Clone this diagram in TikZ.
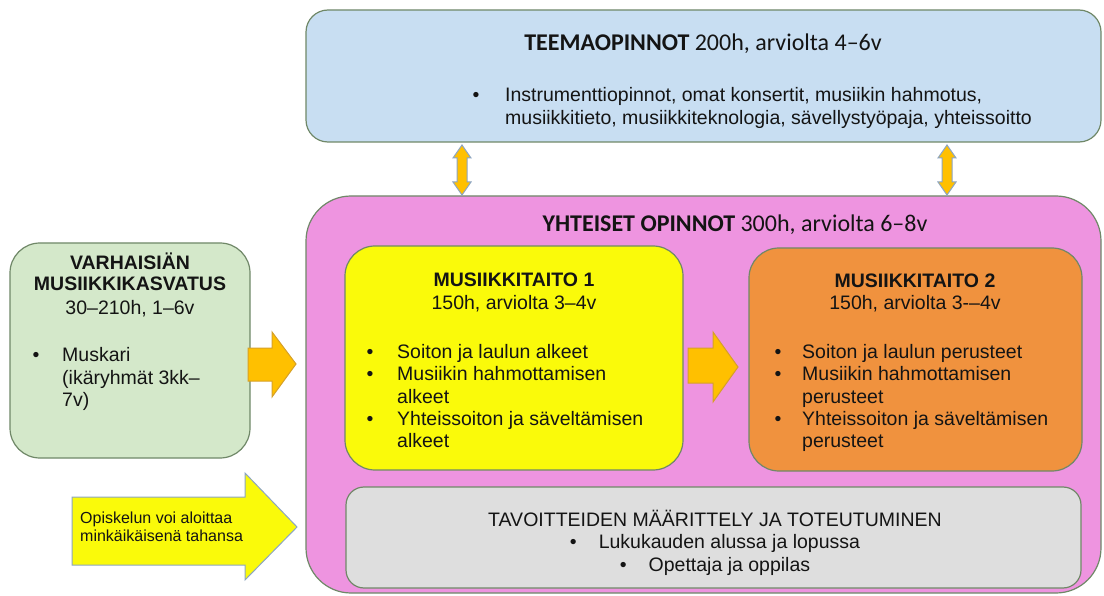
\documentclass[tikz,border=0pt]{standalone}
\usepackage{fontspec}
\setmainfont{Liberation Sans}
\newfontfamily\calib{Carlito}
\definecolor{topblue}{RGB}{200,222,242}
\definecolor{boxline}{RGB}{112,136,104}
\definecolor{pinkfill}{RGB}{238,148,224}
\definecolor{yelfill}{RGB}{250,250,10}
\definecolor{orfill}{RGB}{240,146,62}
\definecolor{greyfill}{RGB}{222,222,222}
\definecolor{greenfill}{RGB}{212,232,202}
\definecolor{gold}{RGB}{255,192,0}
\definecolor{goldline}{RGB}{214,160,40}
\definecolor{blueline}{RGB}{140,165,195}
\definecolor{txt}{RGB}{20,20,20}
\tikzset{
  boxstyle/.style={draw=boxline, line width=1.2pt},
  body/.style={inner sep=0pt, text=txt, font=\fontsize{19.5}{23}\selectfont},
  bodyb/.style={body, font=\fontsize{19.5}{23}\selectfont\bfseries},
  ttl/.style={inner sep=0pt, text=txt, font=\fontsize{24}{28}\selectfont\calib},
  small/.style={inner sep=0pt, text=txt, font=\fontsize{16}{18}\selectfont},
  goldarrow/.style={fill=gold, draw=goldline, line width=1pt, line join=miter},
  dblarrow/.style={fill=gold, draw=blueline, line width=1pt},
}
\begin{document}
\begin{tikzpicture}[x=1pt,y=-1pt]
\useasboundingbox (0,0) rectangle (1104,596);
\fill[white] (0,0) rectangle (1104,596);
% boxes
\draw[boxstyle, fill=topblue, rounded corners=22pt] (306,10) rectangle (1101,142);
\draw[boxstyle, fill=pinkfill, rounded corners=45pt] (306,196) rectangle (1101,593);
\draw[boxstyle, fill=yelfill, rounded corners=30pt] (345,246) rectangle (683,470);
\draw[boxstyle, fill=orfill, rounded corners=30pt] (749,248) rectangle (1082,471);
\draw[boxstyle, fill=greyfill, rounded corners=18pt] (346,487) rectangle (1081,588);
\draw[boxstyle, fill=greenfill, rounded corners=30pt] (10,243) rectangle (250,458);
% arrows
\draw[goldarrow] (248,348) -- (272,348) -- (272,332) -- (296,364) -- (272,397) -- (272,381) -- (248,381) -- cycle;
\draw[goldarrow] (688,348) -- (713,348) -- (713,332) -- (738,367) -- (713,402) -- (713,383) -- (688,383) -- cycle;
\draw[fill=yelfill, draw=blueline, line width=1pt] (72,497) -- (245,497) -- (245,473) -- (297,527) -- (245,580) -- (245,565) -- (72,565) -- cycle;
\foreach \cx in {462,947}{
  \draw[dblarrow] (\cx,145) -- (\cx+9,158) -- (\cx+5,158) -- (\cx+5,182) -- (\cx+9,182) -- (\cx,195) -- (\cx-9,182) -- (\cx-5,182) -- (\cx-5,158) -- (\cx-9,158) -- cycle;
}
% top box text
\node[ttl, anchor=base] (toptitle) at (703,51) {\textbf{TEEMAOPINNOT} 200h, arviolta 4–6v};
\node[body, anchor=base] (topb) at (476,102) {•};
\node[body, anchor=base west] (topl1) at (505,102) {Instrumenttiopinnot, omat konsertit, musiikin hahmotus,};
\node[body, anchor=base west] (topl2) at (505,125) {musiikkitieto, musiikkiteknologia, sävellystyöpaja, yhteissoitto};
% pink title
\node[ttl, anchor=base] (pinktitle) at (735,232) {\textbf{YHTEISET OPINNOT} 300h, arviolta 6–8v};
% yellow box
\node[bodyb, anchor=base] (y1) at (514,287) {MUSIIKKITAITO 1};
\node[body, anchor=base] (y2) at (514,309) {150h, arviolta 3–4v};
\node[body, anchor=base] (yb1) at (370,358) {•};
\node[body, anchor=base west] (yt1) at (397,358) {Soiton ja laulun alkeet};
\node[body, anchor=base] (yb2) at (370,381) {•};
\node[body, anchor=base west] (yt2) at (397,381) {Musiikin hahmottamisen};
\node[body, anchor=base west] (yt3) at (397,403) {alkeet};
\node[body, anchor=base] (yb3) at (370,425) {•};
\node[body, anchor=base west] (yt4) at (397,425) {Yhteissoiton ja säveltämisen};
\node[body, anchor=base west] (yt5) at (397,447) {alkeet};
% orange box
\node[bodyb, anchor=base] (o1) at (915,288) {MUSIIKKITAITO 2};
\node[body, anchor=base] (o2) at (915,310) {150h, arviolta 3-–4v};
\node[body, anchor=base] (ob1) at (778,358) {•};
\node[body, anchor=base west] (ot1) at (802,358) {Soiton ja laulun perusteet};
\node[body, anchor=base] (ob2) at (778,381) {•};
\node[body, anchor=base west] (ot2) at (802,381) {Musiikin hahmottamisen};
\node[body, anchor=base west] (ot3) at (802,403) {perusteet};
\node[body, anchor=base] (ob3) at (778,425) {•};
\node[body, anchor=base west] (ot4) at (802,425) {Yhteissoiton ja säveltämisen};
\node[body, anchor=base west] (ot5) at (802,447) {perusteet};
% grey box
\node[body, anchor=base] (g1) at (715,526) {TAVOITTEIDEN MÄÄRITTELY JA TOTEUTUMINEN};
\node[body, anchor=base] (g2) at (715,548) {•\hspace{22pt}Lukukauden alussa ja lopussa};
\node[body, anchor=base] (g3) at (715,571) {•\hspace{22pt}Opettaja ja oppilas};
% green box
\node[bodyb, anchor=base] (v1) at (130,270) {VARHAISIÄN};
\node[bodyb, anchor=base] (v2) at (130,291) {MUSIIKKIKASVATUS};
\node[body, anchor=base] (v3) at (130,315) {30–210h, 1–6v};
\node[body, anchor=base] (vb1) at (36,362) {•};
\node[body, anchor=base west] (vt1) at (62,362) {Muskari};
\node[body, anchor=base west] (vt2) at (62,384) {(ikäryhmät 3kk–};
\node[body, anchor=base west] (vt3) at (62,406) {7v)};
% yellow arrow text
\node[small, anchor=base west] (a1) at (80,523) {Opiskelun voi aloittaa};
\node[small, anchor=base west] (a2) at (80,541) {minkäikäisenä tahansa};
\end{tikzpicture}
\end{document}
